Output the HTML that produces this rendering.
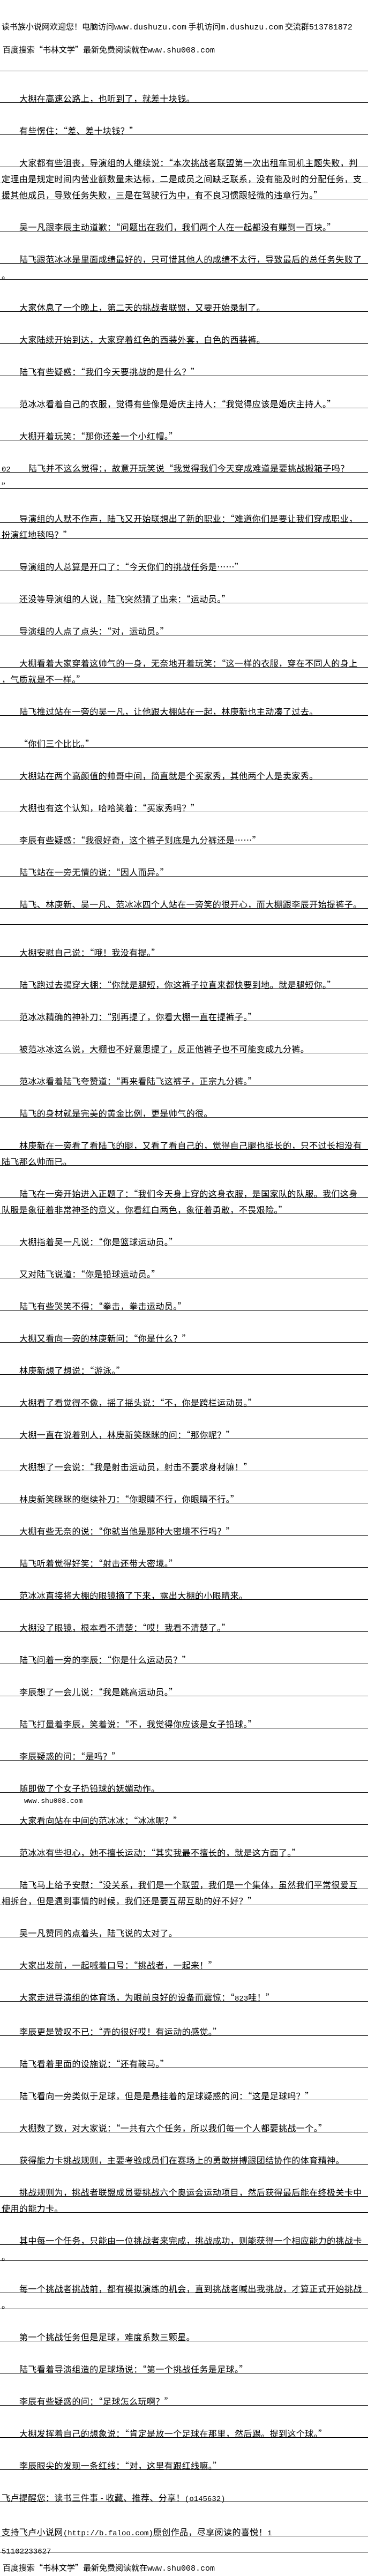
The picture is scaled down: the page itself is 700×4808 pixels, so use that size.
<!DOCTYPE html>
<html><head><meta charset="utf-8">
<style>
html,body{margin:0;padding:0;background:#fff;}
body{width:700px;height:4805px;position:relative;overflow:hidden;color:#000;font-family:"Noto Sans CJK SC","WenQuanYi Zen Hei",sans-serif;}
.h{position:absolute;left:3px;font-size:15px;line-height:20px;white-space:nowrap;}
.hm{font-family:"Liberation Mono",monospace;letter-spacing:0;}
.hr{position:absolute;left:0;top:132px;width:687px;height:1px;background:#000;}
#c{position:absolute;left:0;top:168px;width:687px;}
p{margin:0 0 30px;padding-left:3px;font-size:16px;line-height:30px;letter-spacing:0.4px;white-space:nowrap;text-indent:33px;
background:repeating-linear-gradient(to bottom,transparent 0,transparent 23px,#000 23px,#000 24px,transparent 24px,transparent 30px);}
p.n{text-indent:0;}
.m{font-family:"Liberation Mono",monospace;font-size:14px;letter-spacing:0;}
.sm{height:30px;margin:-30px 0 0;font-family:"Liberation Mono",monospace;font-size:13px;line-height:20px;padding-left:45px;padding-top:0;white-space:nowrap;}
</style></head><body>
<div class="h" style="top:40px">读书族小说网欢迎您！电脑访问<span class="hm">www.dushuzu.com</span> 手机访问<span class="hm">m.dushuzu.com</span> 交流群<span class="hm">513781872</span></div>
<div class="h" style="top:83px;left:5px">百度搜索“书林文学”最新免费阅读就在<span class="hm">www.shu008.com</span></div>
<div class="hr"></div>
<div id="c">
<p>大棚在高速公路上，也听到了，就差十块钱。</p>
<p>有些愣住：“差、差十块钱？”</p>
<p>大家都有些沮丧，导演组的人继续说：“本次挑战者联盟第一次出租车司机主题失败，判<br>定理由是规定时间内营业额数量未达标，二是成员之间缺乏联系，没有能及时的分配任务，支<br>援其他成员，导致任务失败，三是在驾驶行为中，有不良习惯跟轻微的违章行为。”</p>
<p>吴一凡跟李辰主动道歉：“问题出在我们，我们两个人在一起都没有赚到一百块。”</p>
<p>陆飞跟范冰冰是里面成绩最好的，只可惜其他人的成绩不太行，导致最后的总任务失败了<br>。</p>
<p>大家休息了一个晚上，第二天的挑战者联盟，又要开始录制了。</p>
<p>大家陆续开始到达，大家穿着红色的西装外套，白色的西装裤。</p>
<p>陆飞有些疑惑：“我们今天要挑战的是什么？”</p>
<p>范冰冰看着自己的衣服，觉得有些像是婚庆主持人：“我觉得应该是婚庆主持人。”</p>
<p>大棚开着玩笑：“那你还差一个小红帽。”</p>
<p class="n"><span class="m">02</span><span style="display:inline-block;width:33px"></span>陆飞并不这么觉得：，故意开玩笑说“我觉得我们今天穿成难道是要挑战搬箱子吗？<br>”</p>
<p>导演组的人默不作声，陆飞又开始联想出了新的职业：“难道你们是要让我们穿成职业，<br>扮演红地毯吗？”</p>
<p>导演组的人总算是开口了：“今天你们的挑战任务是……”</p>
<p>还没等导演组的人说，陆飞突然猜了出来：“运动员。”</p>
<p>导演组的人点了点头：“对，运动员。”</p>
<p>大棚看着大家穿着这帅气的一身，无奈地开着玩笑：“这一样的衣服，穿在不同人的身上<br>，气质就是不一样。”</p>
<p>陆飞推过站在一旁的吴一凡，让他跟大棚站在一起，林庚新也主动凑了过去。</p>
<p>“你们三个比比。”</p>
<p>大棚站在两个高颜值的帅哥中间，简直就是个买家秀，其他两个人是卖家秀。</p>
<p>大棚也有这个认知，哈哈笑着：“买家秀吗？”</p>
<p>李辰有些疑惑：“我很好奇，这个裤子到底是九分裤还是……”</p>
<p>陆飞站在一旁无情的说：“因人而异。”</p>
<p>陆飞、林庚新、吴一凡、范冰冰四个人站在一旁笑的很开心，而大棚跟李辰开始提裤子。<br>&nbsp;</p>
<p>大棚安慰自己说：“哦！我没有提。”</p>
<p>陆飞跑过去揭穿大棚：“你就是腿短，你这裤子拉直来都快要到地。就是腿短你。”</p>
<p>范冰冰精确的神补刀：“别再提了，你看大棚一直在提裤子。”</p>
<p>被范冰冰这么说，大棚也不好意思提了，反正他裤子也不可能变成九分裤。</p>
<p>范冰冰看着陆飞夸赞道：“再来看陆飞这裤子，正宗九分裤。”</p>
<p>陆飞的身材就是完美的黄金比例，更是帅气的很。</p>
<p>林庚新在一旁看了看陆飞的腿，又看了看自己的，觉得自己腿也挺长的，只不过长相没有<br>陆飞那么帅而已。</p>
<p>陆飞在一旁开始进入正题了：“我们今天身上穿的这身衣服，是国家队的队服。我们这身<br>队服是象征着非常神圣的意义，你看红白两色，象征着勇敢，不畏艰险。”</p>
<p>大棚指着吴一凡说：“你是篮球运动员。”</p>
<p>又对陆飞说道：“你是铅球运动员。”</p>
<p>陆飞有些哭笑不得：“拳击，拳击运动员。”</p>
<p>大棚又看向一旁的林庚新问：“你是什么？”</p>
<p>林庚新想了想说：“游泳。”</p>
<p>大棚看了看觉得不像，摇了摇头说：“不，你是跨栏运动员。”</p>
<p>大棚一直在说着别人，林庚新笑眯眯的问：“那你呢？”</p>
<p>大棚想了一会说：“我是射击运动员，射击不要求身材嘛！”</p>
<p>林庚新笑眯眯的继续补刀：“你眼睛不行，你眼睛不行。”</p>
<p>大棚有些无奈的说：“你就当他是那种大密境不行吗？”</p>
<p>陆飞听着觉得好笑：“射击还带大密境。”</p>
<p>范冰冰直接将大棚的眼镜摘了下来，露出大棚的小眼睛来。</p>
<p>大棚没了眼镜，根本看不清楚：“哎！我看不清楚了。”</p>
<p>陆飞问着一旁的李辰：“你是什么运动员？”</p>
<p>李辰想了一会儿说：“我是跳高运动员。”</p>
<p>陆飞打量着李辰，笑着说：“不，我觉得你应该是女子铅球。”</p>
<p>李辰疑惑的问：“是吗？”</p>
<p>随即做了个女子扔铅球的妩媚动作。</p>
<div class="sm">www.shu008.com</div>
<p>大家看向站在中间的范冰冰：“冰冰呢？”</p>
<p>范冰冰有些担心，她不擅长运动：“其实我最不擅长的，就是这方面了。”</p>
<p>陆飞马上给予安慰：“没关系，我们是一个联盟，我们是一个集体，虽然我们平常很爱互<br>相拆台，但是遇到事情的时候，我们还是要互帮互助的好不好？”</p>
<p>吴一凡赞同的点着头，陆飞说的太对了。</p>
<p>大家出发前，一起喊着口号：“挑战者，一起来！”</p>
<p>大家走进导演组的体育场，为眼前良好的设备而震惊：“<span class="m">823</span>哇！”</p>
<p>李辰更是赞叹不已：“弄的很好哎！有运动的感觉。”</p>
<p>陆飞看着里面的设施说：“还有鞍马。”</p>
<p>陆飞看向一旁类似于足球，但是是悬挂着的足球疑惑的问：“这是足球吗？”</p>
<p>大棚数了数，对大家说：“一共有六个任务，所以我们每一个人都要挑战一个。”</p>
<p>获得能力卡挑战规则，主要考验成员们在赛场上的勇敢拼搏跟团结协作的体育精神。</p>
<p>挑战规则为，挑战者联盟成员要挑战六个奥运会运动项目，然后获得最后能在终极关卡中<br>使用的能力卡。</p>
<p>其中每一个任务，只能由一位挑战者来完成，挑战成功，则能获得一个相应能力的挑战卡<br>。</p>
<p>每一个挑战者挑战前，都有模拟演练的机会，直到挑战者喊出我挑战，才算正式开始挑战<br>。</p>
<p>第一个挑战任务但是足球，难度系数三颗星。</p>
<p>陆飞看着导演组造的足球场说：“第一个挑战任务是足球。”</p>
<p>李辰有些疑惑的问：“足球怎么玩啊？”</p>
<p>大棚发挥着自己的想象说：“肯定是放一个足球在那里，然后踢。提到这个球。”</p>
<p>李辰眼尖的发现一条红线：“对，这里有跟红线嘛。”</p>
<p class="n">飞卢提醒您：读书三件事 - 收藏、推荐、分享！<span class="m">(o145632)</span></p>
<p class="n">支持飞卢小说网<span class="m">(http://b.faloo.com)</span>原创作品，尽享阅读的喜悦！<span class="m">1</span><br><span class="m">51102233627</span></p>
</div>
<div class="h" style="top:4783px;left:5px">百度搜索“书林文学”最新免费阅读就在<span class="hm">www.shu008.com</span></div>
</body></html>
